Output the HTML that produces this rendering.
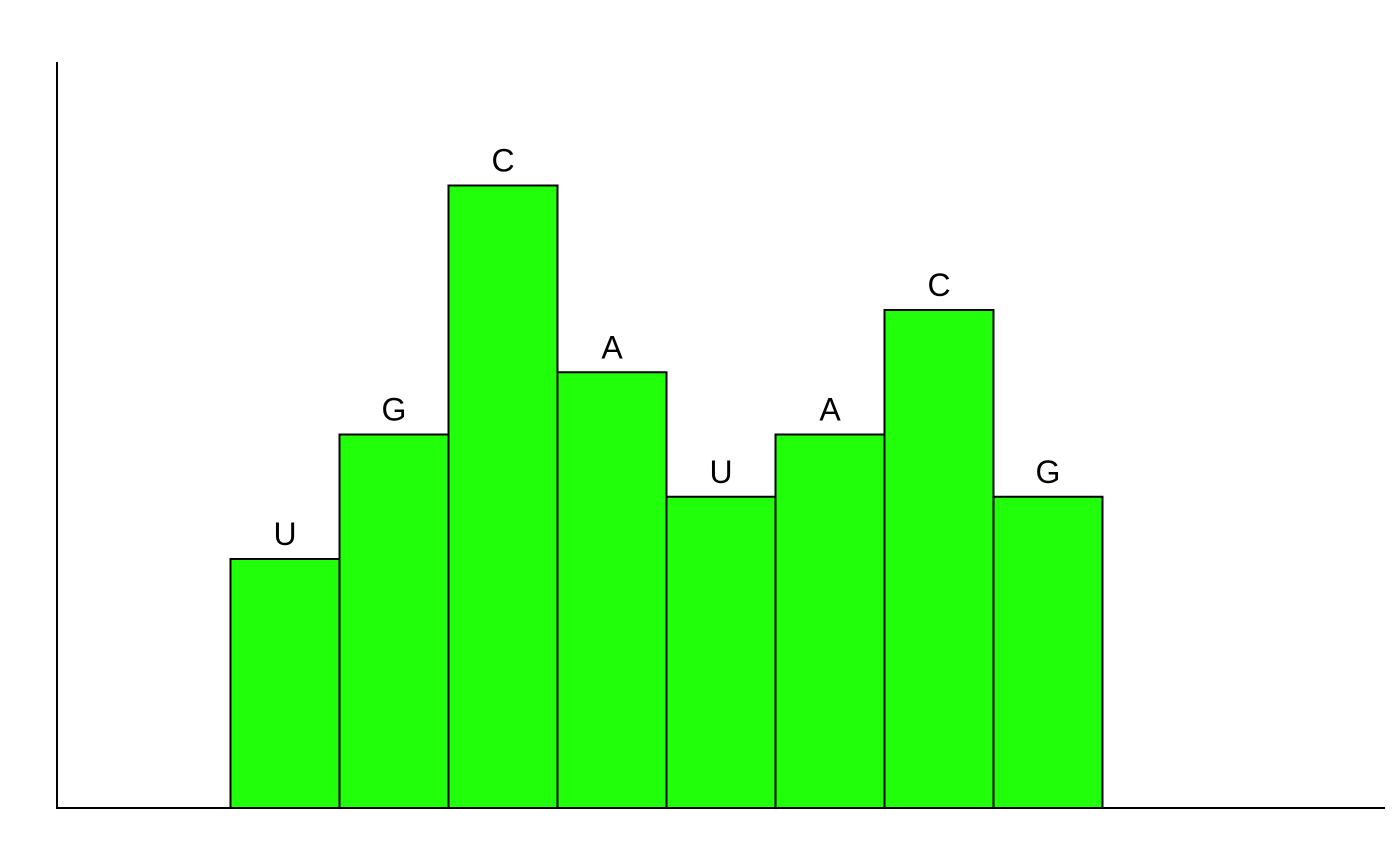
<!DOCTYPE html>
<html><head><meta charset="utf-8"><style>
html,body{margin:0;padding:0;background:#fff;}
svg{display:block;}
</style></head><body>
<svg id="chart" width="1400" height="865" xmlns="http://www.w3.org/2000/svg">
<line x1="57" y1="62" x2="57" y2="809" stroke="#000" stroke-width="2"/>
<line x1="56" y1="808" x2="1385" y2="808" stroke="#000" stroke-width="2"/>
<g id="bars"></g>
</svg>
<script>
const categories = ["U","G","C","A","U","A","C","G"];
const values = [4,6,10,7,5,6,8,5];

const x0 = 230.5, bw = 109;
const baseY = 808, unit = 62.25;
function xScale(i){ return x0 + bw*i; }
function yScale(v){ return baseY - v*unit; }

const g = document.getElementById('bars');
const NS = "http://www.w3.org/2000/svg";
categories.forEach((c,i)=>{
  const r = document.createElementNS(NS,'rect');
  const top = yScale(values[i]);
  r.setAttribute('x', xScale(i));
  r.setAttribute('y', top);
  r.setAttribute('width', bw);
  r.setAttribute('height', baseY - top);
  r.setAttribute('fill', '#22ff0a');
  r.setAttribute('stroke', '#000');
  r.setAttribute('stroke-width', '2');
  
  
  g.appendChild(r);
  const t = document.createElementNS(NS,'text');
  t.setAttribute('x', xScale(i) + bw/2);
  t.setAttribute('y', top - 14);
  t.setAttribute('text-anchor', 'middle');
  t.setAttribute('font-family', 'Liberation Sans, sans-serif');
  t.setAttribute('font-size', '32');
  t.setAttribute('fill', '#000');
  t.textContent = c;
  
  
  g.appendChild(t);
});
</script>
</body></html>
